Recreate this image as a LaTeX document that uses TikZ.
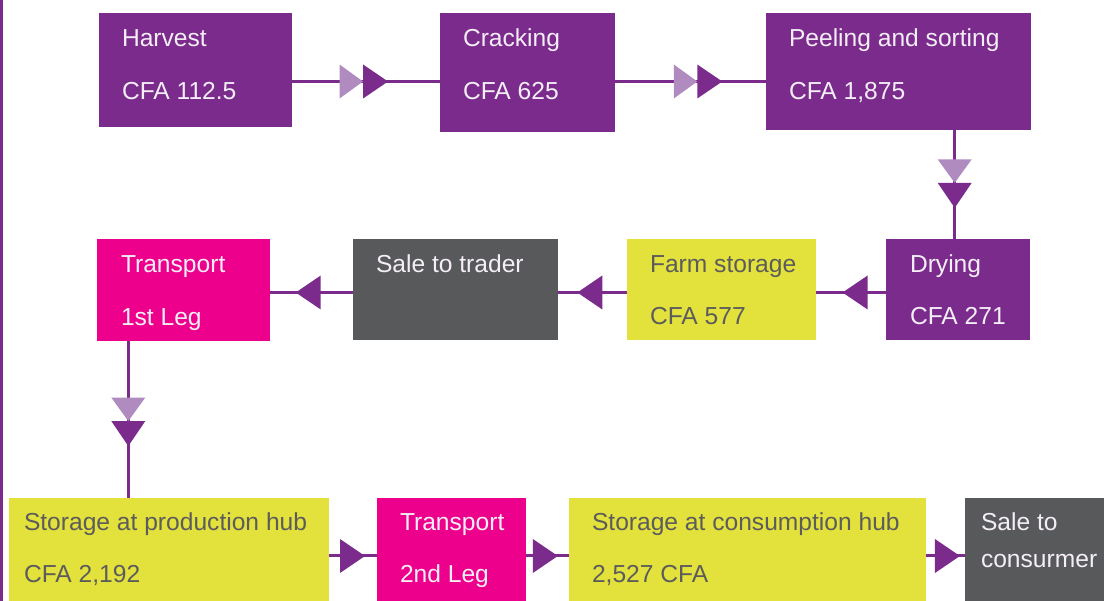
\documentclass[tikz,border=0pt]{standalone}
\usepackage{fontspec}
\setmainfont{Liberation Sans}
\usetikzlibrary{calc,decorations.markings}
\definecolor{purp}{HTML}{7B2B8C}
\definecolor{lightp}{HTML}{B08BC0}
\definecolor{magenta}{HTML}{EC008C}
\definecolor{yell}{HTML}{E3E13B}
\definecolor{greybox}{HTML}{58595B}
\definecolor{lighttext}{HTML}{F4EEF6}
\definecolor{darktext}{HTML}{5C5C5C}
\tikzset{
  box/.style={rectangle, draw=none, inner sep=0pt, outer sep=0pt, anchor=north west},
  lbl/.style={anchor=base west, inner sep=0pt, outer sep=0pt, font=\fontsize{24.6}{28}\selectfont},
  onlight/.style={lbl, text=darktext},
  ondark/.style={lbl, text=lighttext},
  conn/.style={draw=purp, line width=3pt},
  dbl/.style={decoration={markings, mark=at position #1 with {
      \fill[lightp] (-23.5,-17) -- (0,0) -- (-23.5,17) -- cycle;
      \fill[purp] (0,-17) -- (25,0) -- (0,17) -- cycle;}}, postaction=decorate},
  sgl/.style={decoration={markings, mark=at position #1 with {
      \fill[purp] (-25,-17) -- (0,0) -- (-25,17) -- cycle;}}, postaction=decorate}
}
\begin{document}
\begin{tikzpicture}[x=1pt, y=-1pt]
\useasboundingbox (0,0) rectangle (1104,601);
\fill[purp] (0,0) rectangle (2.5,601);
% row 1
\node[box, fill=purp, minimum width=193pt, minimum height=114pt] (harvest) at (99,13) {};
\node[box, fill=purp, minimum width=175pt, minimum height=119pt] (cracking) at (440,13) {};
\node[box, fill=purp, minimum width=265pt, minimum height=117pt] (peeling) at (766,13) {};
% row 2
\node[box, fill=purp, minimum width=144pt, minimum height=101pt] (drying) at (886,239) {};
\node[box, fill=yell, minimum width=189pt, minimum height=101pt] (farm) at (627,239) {};
\node[box, fill=greybox, minimum width=205pt, minimum height=101pt] (trader) at (353,239) {};
\node[box, fill=magenta, minimum width=173pt, minimum height=102pt] (transA) at (97,239) {};
% row 3
\node[box, fill=yell, minimum width=320pt, minimum height=103pt] (prodhub) at (9,498) {};
\node[box, fill=magenta, minimum width=149pt, minimum height=103pt] (transB) at (377,498) {};
\node[box, fill=yell, minimum width=357pt, minimum height=103pt] (conshub) at (569,498) {};
\node[box, fill=greybox, minimum width=139pt, minimum height=103pt] (consumer) at (965,498) {};
% texts
\node[ondark] (t1a) at ($(harvest.north west)+(23,34)$) {Harvest};
\node[ondark] (t1b) at ($(harvest.north west)+(23,87)$) {CFA 112.5};
\node[ondark] (t2a) at ($(cracking.north west)+(23,34)$) {Cracking};
\node[ondark] (t2b) at ($(cracking.north west)+(23,87)$) {CFA 625};
\node[ondark] (t3a) at ($(peeling.north west)+(23,34)$) {Peeling and sorting};
\node[ondark] (t3b) at ($(peeling.north west)+(23,87)$) {CFA 1,875};
\node[ondark] (t4a) at ($(drying.north west)+(24,34)$) {Drying};
\node[ondark] (t4b) at ($(drying.north west)+(24,86)$) {CFA 271};
\node[onlight] (t5a) at ($(farm.north west)+(23,34)$) {Farm storage};
\node[onlight] (t5b) at ($(farm.north west)+(23,86)$) {CFA 577};
\node[ondark] (t6a) at ($(trader.north west)+(23,34)$) {Sale to trader};
\node[ondark] (t7a) at ($(transA.north west)+(24,34)$) {Transport};
\node[ondark] (t7b) at ($(transA.north west)+(24,87)$) {1st Leg};
\node[onlight] (t8a) at ($(prodhub.north west)+(15,33)$) {Storage at production hub};
\node[onlight] (t8b) at ($(prodhub.north west)+(15,85)$) {CFA 2,192};
\node[ondark] (t9a) at ($(transB.north west)+(23,33)$) {Transport};
\node[ondark] (t9b) at ($(transB.north west)+(23,85)$) {2nd Leg};
\node[onlight] (t10a) at ($(conshub.north west)+(23,33)$) {Storage at consumption hub};
\node[onlight] (t10b) at ($(conshub.north west)+(23,85)$) {2,527 CFA};
\node[ondark] (t11a) at ($(consumer.north west)+(16,33)$) {Sale to};
\node[ondark] (t11b) at ($(consumer.north west)+(16,70)$) {consurmer};
% connectors
\path[conn, dbl=0.48] (harvest.east |- 0,81.5) -- (cracking.west |- 0,81.5);
\path[conn, dbl=0.545] (cracking.east |- 0,81.5) -- (peeling.west |- 0,81.5);
\path[conn, dbl=0.485] (peeling.south -| 954.7,0) -- (drying.north -| 954.7,0);
\path[conn, sgl=0.62] (drying.west |- 0,292.5) -- (farm.east |- 0,292.5);
\path[conn, sgl=0.72] (farm.west |- 0,292.5) -- (trader.east |- 0,292.5);
\path[conn, sgl=0.69] (trader.west |- 0,292.5) -- (transA.east |- 0,292.5);
\path[conn, dbl=0.51] (transA.south -| 128.3,0) -- (prodhub.north -| 128.3,0);
\path[conn, sgl=0.75] (prodhub.east |- 0,556) -- (transB.west |- 0,556);
\path[conn, sgl=0.74] (transB.east |- 0,556) -- (conshub.west |- 0,556);
\path[conn, sgl=0.87] (conshub.east |- 0,556) -- (consumer.west |- 0,556);
\end{tikzpicture}
\end{document}
